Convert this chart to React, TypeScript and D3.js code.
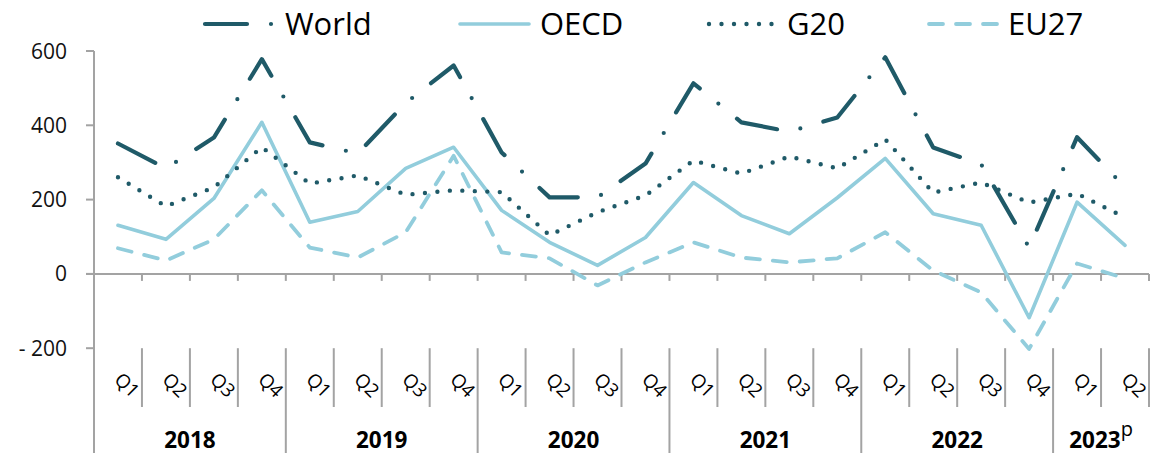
import React, { useEffect, useRef } from 'react';
import * as d3 from 'd3';

const YEARS = ['2018', '2019', '2020', '2021', '2022', '2023'];
const QUARTERS = ['Q1', 'Q2', 'Q3', 'Q4', 'Q1', 'Q2', 'Q3', 'Q4', 'Q1', 'Q2', 'Q3', 'Q4', 'Q1', 'Q2', 'Q3', 'Q4', 'Q1', 'Q2', 'Q3', 'Q4', 'Q1', 'Q2'];
const Y_TICKS = [-200, 0, 200, 400, 600];

const WORLD = [351, 284, 367, 578, 354, 324, 460, 561, 327, 206, 206, 297, 513, 408, 383, 421, 583, 340, 295, 71, 368, 233];
const OECD = [131, 93, 203, 408, 139, 168, 284, 341, 171, 85, 23, 98, 246, 157, 108, 205, 311, 162, 131, -118, 193, 77];
const G20 = [260, 182, 233, 341, 243, 265, 213, 225, 220, 104, 166, 211, 305, 270, 316, 284, 362, 219, 246, 192, 216, 152];
const EU27 = [69, 36, 93, 225, 71, 44, 112, 318, 58, 42, -31, 31, 85, 44, 31, 42, 112, 9, -50, -202, 28, -12];

const DARK = '#1f5a68';
const LIGHT = '#92cddc';

const SERIES = [
  { name: 'World', values: WORLD, color: DARK, width: 4.2, dash: '42 24 0 24', legendX: 205, textX: 285 },
  { name: 'OECD', values: OECD, color: LIGHT, width: 3.6, dash: null, legendX: 460, textX: 540 },
  { name: 'G20', values: G20, color: DARK, width: 4.4, dash: '0 12.5', legendX: 709, textX: 787 },
  { name: 'EU27', values: EU27, color: LIGHT, width: 3.8, dash: '14 13', legendX: 929, textX: 1008 },
];

const W = 1151;
const H = 453;
const FONT = '"Open Sans", "Noto Sans", sans-serif';

const App: React.FC = () => {
  const svgRef = useRef<SVGSVGElement>(null);

  useEffect(() => {
    if (!svgRef.current) return;
    const svg = d3.select(svgRef.current);
    svg.selectAll('*').remove();

    const left = 94;
    const right = 1149;
    const x = d3.scaleBand<number>().domain(d3.range(QUARTERS.length)).range([left, right]);
    const y = d3.scaleLinear().domain([-200, 600]).range([348.2, 51]);
    const cx = (i: number) => (x(i) as number) + x.bandwidth() / 2;
    const axisColor = '#a3a3a3';
    const labelTop = y(-200);

    // y axis line (runs through the category label area)
    svg.append('line')
      .attr('x1', left).attr('x2', left).attr('y1', y(600)).attr('y2', H)
      .attr('stroke', axisColor).attr('stroke-width', 2);

    // y ticks + labels
    Y_TICKS.forEach(t => {
      svg.append('line')
        .attr('x1', left - 8).attr('x2', left).attr('y1', y(t)).attr('y2', y(t))
        .attr('stroke', axisColor).attr('stroke-width', 2);
      svg.append('text')
        .attr('x', 67).attr('y', y(t)).attr('dy', '0.36em')
        .attr('text-anchor', 'end')
        .style('font-family', FONT).style('font-size', '21px').style('fill', '#111')
        .text(t < 0 ? `- ${Math.abs(t)}` : `${t}`);
    });

    // zero line
    svg.append('line')
      .attr('x1', left - 8).attr('x2', right).attr('y1', y(0)).attr('y2', y(0))
      .attr('stroke', axisColor).attr('stroke-width', 2);

    // category boundaries
    d3.range(1, QUARTERS.length + 1).forEach(i => {
      const bx = i === QUARTERS.length ? right : (x(i) as number);
      svg.append('line')
        .attr('x1', bx).attr('x2', bx).attr('y1', y(0)).attr('y2', y(0) + 7)
        .attr('stroke', axisColor).attr('stroke-width', 2);
      const isYear = i % 4 === 0 && i < QUARTERS.length;
      svg.append('line')
        .attr('x1', bx).attr('x2', bx).attr('y1', labelTop).attr('y2', isYear ? H : 407)
        .attr('stroke', axisColor).attr('stroke-width', 2);
    });

    // quarter labels
    QUARTERS.forEach((q, i) => {
      svg.append('text')
        .attr('transform', `translate(${cx(i) + 9},${385}) rotate(45)`)
        .attr('text-anchor', 'middle').attr('dy', '0.35em')
        .style('font-family', FONT).style('font-size', '19px').style('fill', '#000')
        .text(q);
    });

    // year labels
    YEARS.forEach((yr, k) => {
      const first = k * 4;
      const last = Math.min(first + 3, QUARTERS.length - 1);
      const mid = ((x(first) as number) + (x(last) as number) + x.bandwidth()) / 2;
      const t = svg.append('text')
        .attr('x', mid).attr('y', 440).attr('dy', '0.35em')
        .attr('text-anchor', 'middle')
        .style('font-family', FONT).style('font-size', '22.5px').style('font-weight', 'bold').style('fill', '#000')
        .text(yr);
      if (yr === '2023') {
        t.append('tspan').attr('dy', '-0.6em').style('font-weight', 'normal').style('font-size', '20px').text('p');
      }
    });

    // series lines
    const line = d3.line<number>().x((_, i) => cx(i)).y(d => y(d));
    SERIES.forEach(s => {
      const p = svg.append('path')
        .attr('d', line(s.values) as string)
        .attr('fill', 'none')
        .attr('stroke', s.color)
        .attr('stroke-width', s.width)
        .attr('stroke-linecap', 'round')
        .attr('stroke-linejoin', 'round');
      if (s.dash) p.attr('stroke-dasharray', s.dash);
    });

    // legend
    const ly = 24;
    SERIES.forEach(s => {
      const p = svg.append('line')
        .attr('x1', s.legendX).attr('x2', s.textX - 11).attr('y1', ly).attr('y2', ly)
        .attr('stroke', s.color).attr('stroke-width', s.width)
        .attr('stroke-linecap', 'round');
      if (s.dash) p.attr('stroke-dasharray', s.dash);
      svg.append('text')
        .attr('x', s.textX).attr('y', ly).attr('dy', '0.36em')
        .style('font-family', FONT).style('font-size', '31px').style('fill', '#000')
        .text(s.name);
    });
  }, []);

  return (
    <svg ref={svgRef} width={W} height={H}
      style={{ position: 'absolute', left: 0, top: 0, background: '#fff' }} />
  );
};

export default App;
